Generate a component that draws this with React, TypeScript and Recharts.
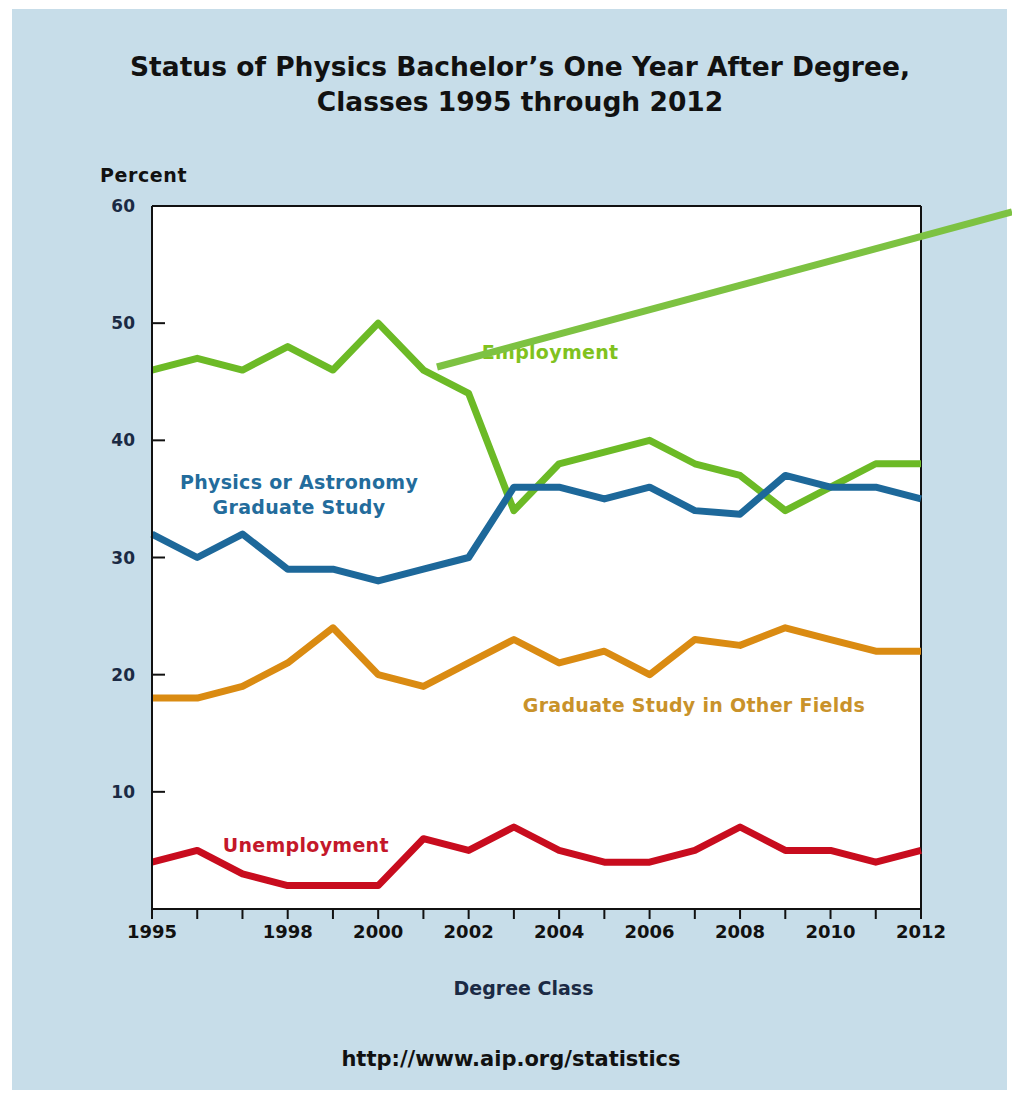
import {
  CartesianGrid,
  Line,
  LineChart,
  ReferenceDot,
  ReferenceLine,
  XAxis,
  YAxis,
} from 'recharts';

const years = [
  1995, 1996, 1997, 1998, 1999, 2000, 2001, 2002, 2003, 2004, 2005, 2006,
  2007, 2008, 2009, 2010, 2011, 2012,
];
const labeledYears = [1995, 1998, 2000, 2002, 2004, 2006, 2008, 2010, 2012];
const yTicks = [10, 20, 30, 40, 50, 60];

const employment = [46, 47, 46, 48, 46, 50, 46, 44, 34, 38, 39, 40, 38, 37, 34, 36, 38, 38];
const physicsGrad = [32, 30, 32, 29, 29, 28, 29, 30, 36, 36, 35, 36, 34, 33.7, 37, 36, 36, 35];
const otherFields = [18, 18, 19, 21, 24, 20, 19, 21, 23, 21, 22, 20, 23, 22.5, 24, 23, 22, 22];
const unemployment = [4, 5, 3, 2, 2, 2, 6, 5, 7, 5, 4, 4, 5, 7, 5, 5, 4, 5];

const series = [
  { key: 'employment', color: '#6cba26' },
  { key: 'physicsGrad', color: '#1d689a' },
  { key: 'otherFields', color: '#da8b12' },
  { key: 'unemployment', color: '#c80c1e' },
];

const rows = years.map((year, i) => ({
  year,
  employment: employment[i],
  physicsGrad: physicsGrad[i],
  otherFields: otherFields[i],
  unemployment: unemployment[i],
}));

const FONT = '"DejaVu Sans", Verdana, sans-serif';

function YTick(props: any) {
  const { x, y, payload } = props;
  return (
    <g>
      <text
        x={x}
        y={y}
        dy="0.36em"
        textAnchor="end"
        fontFamily={FONT}
        fontWeight="bold"
        fontSize={17}
        fill="#1b2a44"
      >
        {payload.value}
      </text>
      <line x1={x + 17} x2={x + 30} y1={y} y2={y} stroke="#111" strokeWidth={2} />
    </g>
  );
}

function annotation(text: string[], color: string) {
  return (p: any) => (
    <text
      x={p.cx}
      y={p.cy}
      textAnchor="middle"
      fontFamily={FONT}
      fontWeight="bold"
      fontSize={19}
      letterSpacing={0.3}
      fill={color}
    >
      {text.map((t, i) => (
        <tspan key={t} x={p.cx} dy={i === 0 ? '0.35em' : 25}>
          {t}
        </tspan>
      ))}
    </text>
  );
}

export default function App() {
  return (
    <div style={{ position: 'relative', width: 1012, height: 1095, background: '#fff' }}>
      <style>{'body{margin:0}'}</style>
      <div
        style={{
          position: 'absolute',
          left: 12,
          top: 9,
          width: 995,
          height: 1081,
          background: '#c7dde9',
        }}
      />
      <div
        style={{
          position: 'absolute',
          left: 0,
          top: 49,
          width: 1040,
          textAlign: 'center',
          fontFamily: FONT,
          fontWeight: 'bold',
          fontSize: 26.5,
          lineHeight: '35px',
          color: '#111',
        }}
      >
        Status of Physics Bachelor’s One Year After Degree,
        <br />
        Classes 1995 through 2012
      </div>
      <div
        style={{
          position: 'absolute',
          left: 100,
          top: 164,
          fontFamily: FONT,
          fontWeight: 'bold',
          fontSize: 19,
          letterSpacing: 0.6,
          color: '#111',
        }}
      >
        Percent
      </div>
      <div
        style={{
          position: 'absolute',
          left: 0,
          top: 1047,
          width: 1022,
          textAlign: 'center',
          fontFamily: FONT,
          fontWeight: 'bold',
          fontSize: 21,
          color: '#111',
        }}
      >
        http://www.aip.org/statistics
      </div>
      <div style={{ position: 'absolute', left: 0, top: 0 }}>
        <LineChart
          width={1012}
          height={1095}
          data={rows}
          margin={{ top: 206, right: 91, left: 92, bottom: 146 }}
        >
          <rect x={152} y={206} width={769} height={703} fill="#fff" />
          <CartesianGrid
            vertical={false}
            stroke="#111"
            strokeWidth={2}
            strokeDasharray="2 2"
            fill="#fff"
          />
          <XAxis
            dataKey="year"
            type="number"
            domain={[1995, 2012]}
            ticks={years}
            interval={0}
            tickFormatter={(v: number) => (labeledYears.includes(v) ? String(v) : '')}
            tickSize={10}
            tickMargin={6}
            height={40}
            axisLine={{ stroke: '#111', strokeWidth: 2 }}
            tickLine={{ stroke: '#111', strokeWidth: 2 }}
            tick={{ fontFamily: FONT, fontWeight: 'bold', fontSize: 18, fill: '#111' }}
            label={{
              value: 'Degree Class',
              position: 'insideBottom',
              offset: -46,
              dx: -13,
              style: { fontFamily: FONT, fontWeight: 'bold', fontSize: 19, fill: '#1b2a44' },
            }}
          />
          <YAxis
            type="number"
            domain={[0, 60]}
            ticks={yTicks}
            interval={0}
            width={60}
            tickSize={0}
            tickMargin={17}
            tickLine={false}
            axisLine={{ stroke: '#111', strokeWidth: 2 }}
            tick={<YTick />}
          />
          <ReferenceLine y={60} stroke="#111" strokeWidth={2} />
          <ReferenceLine x={2012} stroke="#111" strokeWidth={2} />
          {series.map((s) => (
            <Line
              key={s.key}
              dataKey={s.key}
              type="linear"
              stroke={s.color}
              strokeWidth={7}
              dot={false}
              strokeLinejoin="round"
              isAnimationActive={false}
            />
          ))}
          <ReferenceDot
            x={2003.8}
            y={47.5}
            r={1}
            shape={annotation(['Employment'], '#80c21e')}
          />
          <ReferenceDot
            x={1998.25}
            y={36.4}
            r={1}
            shape={annotation(['Physics or Astronomy', 'Graduate Study'], '#236c9c')}
          />
          <ReferenceDot
            x={2006.98}
            y={17.4}
            r={1}
            shape={annotation(['Graduate Study in Other Fields'], '#c9922a')}
          />
          <ReferenceDot
            x={1998.4}
            y={5.4}
            r={1}
            shape={annotation(['Unemployment'], '#c4182a')}
          />
        </LineChart>
      </div>
      <svg
        width={1012}
        height={1095}
        style={{ position: 'absolute', left: 0, top: 0, pointerEvents: 'none' }}
      >
        <line x1={437} y1={367} x2={1012} y2={212} stroke="#7dc242" strokeWidth={7} />
      </svg>
    </div>
  );
}
